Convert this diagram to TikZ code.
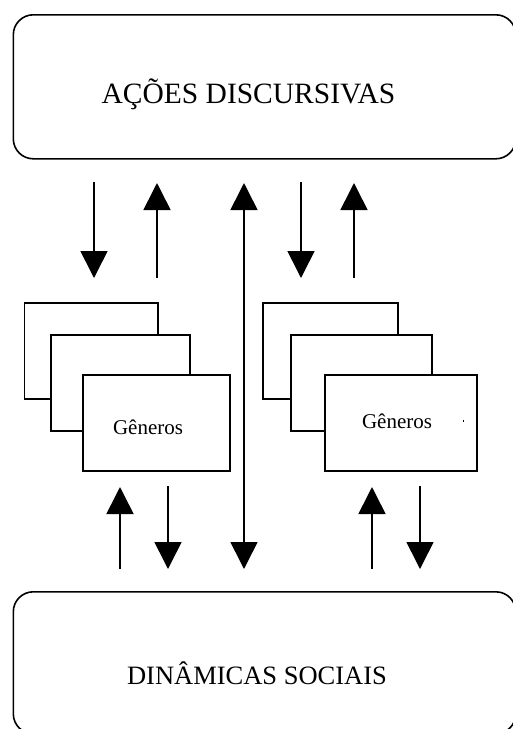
\documentclass[tikz,border=0pt]{standalone}
\usepackage{fontspec}
\setmainfont{Liberation Serif}
\usetikzlibrary{arrows.meta}
\begin{document}
\begin{tikzpicture}[x=1pt,y=-1pt,
  line width=1.6pt,
  bigbox/.style={draw, rounded corners=20pt, inner sep=0pt, anchor=north west},
  card/.style={draw, fill=white, inner sep=0pt, anchor=north west},
  flow/.style={-{Triangle[width=27pt,length=27pt]}},
  both/.style={{Triangle[width=27pt,length=27pt]}-{Triangle[width=27pt,length=27pt]}}]
\useasboundingbox (0,0) rectangle (512,729);

% the two rounded frames
\node[bigbox, minimum width=502.5pt, minimum height=144pt] (acoes) at (12.5,14) {};
\node[anchor=base, font=\fontsize{29.5}{32}\selectfont] (acoesT) at (248.5,103.5) {AÇÕES DISCURSIVAS};
\node[bigbox, minimum width=502.5pt, minimum height=142pt] (dinam) at (12.5,591) {};
\node[anchor=base, font=\fontsize{26.5}{30}\selectfont] (dinamT) at (257,684) {DINÂMICAS SOCIAIS};

% left stack of cards
\node[card, minimum width=133.3pt, minimum height=96pt] (la) at (23.7,302) {};
\node[card, minimum width=139pt, minimum height=96pt] (lb) at (50,334) {};
\node[card, minimum width=147pt, minimum height=96pt] (lc) at (82,374) {};
\node[anchor=base, font=\fontsize{21}{24}\selectfont] (lcT) at (148,434) {Gêneros};

% right stack of cards
\node[card, minimum width=135pt, minimum height=96pt] (ra) at (262,302) {};
\node[card, minimum width=141pt, minimum height=96pt] (rb) at (290,334) {};
\node[card, minimum width=152pt, minimum height=96pt] (rc) at (324,374) {};
\node[anchor=base, font=\fontsize{21}{24}\selectfont] (rcT) at (397,428) {Gêneros};
\fill (462.5,419.5) rectangle (463.7,422);

% arrow end points
\coordinate (a1s) at (94,182);  \coordinate (a1e) at (94,278);
\coordinate (a2s) at (157,278); \coordinate (a2e) at (157,183);
\coordinate (a3s) at (301,182); \coordinate (a3e) at (301,278);
\coordinate (a4s) at (354,278); \coordinate (a4e) at (354,183);
\coordinate (mtop) at (244,183); \coordinate (mbot) at (244,569);
\coordinate (b1s) at (120,569); \coordinate (b1e) at (120,487);
\coordinate (b2s) at (168,486); \coordinate (b2e) at (168,569);
\coordinate (b3s) at (372,569); \coordinate (b3e) at (372,487);
\coordinate (b4s) at (420,486); \coordinate (b4e) at (420,569);

\draw[flow] (a1s) -- (a1e);
\draw[flow] (a2s) -- (a2e);
\draw[flow] (a3s) -- (a3e);
\draw[flow] (a4s) -- (a4e);
\draw[both] (mtop) -- (mbot);
\draw[flow] (b1s) -- (b1e);
\draw[flow] (b2s) -- (b2e);
\draw[flow] (b3s) -- (b3e);
\draw[flow] (b4s) -- (b4e);
\end{tikzpicture}
\end{document}
